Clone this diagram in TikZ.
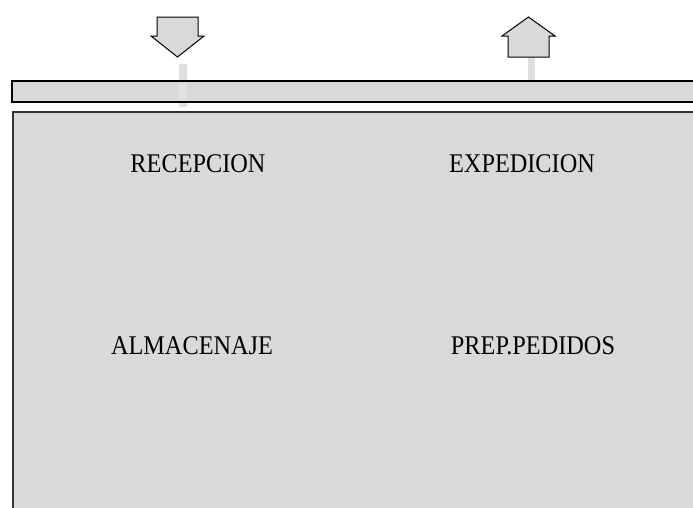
\documentclass[tikz,border=0pt]{standalone}
\usepackage{fontspec}
\usepackage{graphicx}
\setmainfont{Liberation Serif}
\newcommand{\lbltext}[1]{\scalebox{0.9}[1]{#1}}
\begin{document}
\begin{tikzpicture}[x=1pt,y=-1pt,
  lbl/.style={anchor=base,inner sep=0pt,font=\fontsize{27}{30}\selectfont},
  arrowshape/.style={fill=black!15,draw=black,line width=1pt,line join=miter},
  stub/.style={fill=black!12}]
\useasboundingbox (0,0) rectangle (693,507);
\clip (0,0) rectangle (693,507);
% main area
\fill[black!15] (13,112) rectangle (710,520);
\draw[line width=1.6pt,black!80] (13,520) -- (13,112) -- (710,112);
% strip
\fill[black!15] (12,81) rectangle (710,102);
% stubs
\fill[stub] (179,64) rectangle (187,107);
\fill[stub] (528,57) rectangle (535,81);
\draw[line width=2pt] (710,81) -- (12,81) -- (12,102) -- (710,102);
% down arrow
\draw[arrowshape] (157,17) -- (198,17) -- (198,36) -- (204,36) -- (177.5,57) -- (151,36) -- (157,36) -- cycle;
% up arrow
\draw[arrowshape] (508,57) -- (549,57) -- (549,36) -- (555,36) -- (528.5,17) -- (502,36) -- (508,36) -- cycle;
% labels
\node[lbl] (rec) at (198,172) {\lbltext{RECEPCION}};
\node[lbl] (exp) at (522,172) {\lbltext{EXPEDICION}};
\node[lbl] (alm) at (192,354) {\lbltext{ALMACENAJE}};
\node[lbl] (prep) at (533,354) {\lbltext{PREP.PEDIDOS}};
\end{tikzpicture}
\end{document}
